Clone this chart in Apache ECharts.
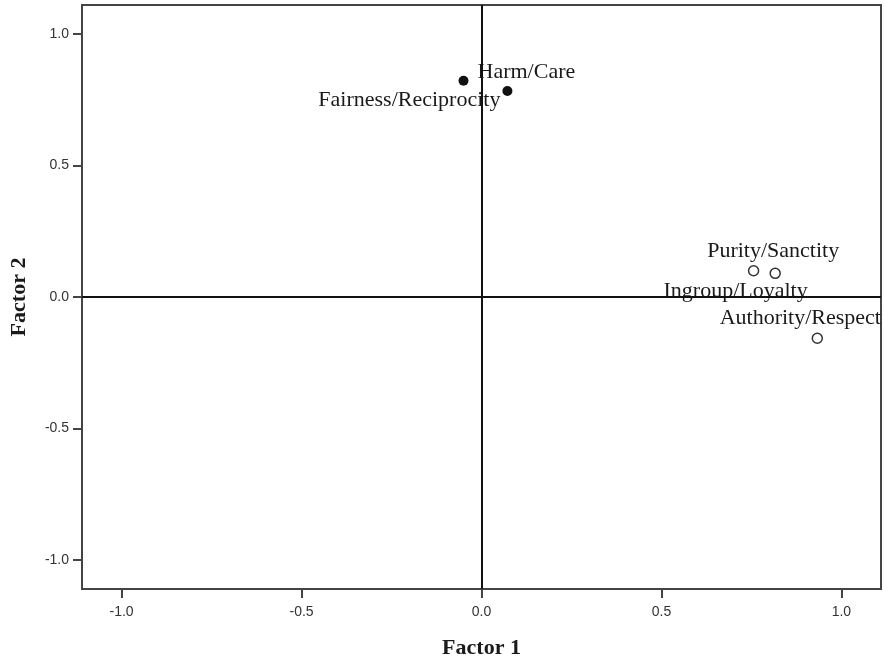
<!DOCTYPE html>
<html>
<head>
<meta charset="utf-8">
<script src="https://cdn.jsdelivr.net/npm/echarts@6/dist/echarts.min.js"></script>
<style>html,body{margin:0;padding:0;background:#fff}#c{width:884px;height:664px}</style>
</head>
<body>
<div id="c"></div>
<script>
// Data
const names = ['Harm/Care', 'Fairness/Reciprocity', 'Ingroup/Loyalty', 'Purity/Sanctity', 'Authority/Respect'];
const factor1 = [-0.050, 0.072, 0.756, 0.816, 0.933];
const factor2 = [0.822, 0.783, 0.100, 0.090, -0.157];
const filled = [true, true, false, false, false];
const tickValues = [-1.0, -0.5, 0.0, 0.5, 1.0];
const axisMin = -1.11, axisMax = 1.11;

// label placement (style only)
const labelStyle = [
  {align: 'left', offset: [14, -9]},
  {align: 'right', offset: [-7, 9]},
  {align: 'center', offset: [-18, 21]},
  {align: 'center', offset: [-2, -22]},
  {align: 'center', offset: [-17, -20]}
];

function pts(isFilled) {
  const out = [];
  for (let i = 0; i < names.length; i++) {
    if (filled[i] !== isFilled) continue;
    out.push({
      name: names[i],
      value: [factor1[i], factor2[i]],
      label: {
        show: true, position: 'inside', formatter: names[i],
        align: labelStyle[i].align, verticalAlign: 'middle',
        offset: labelStyle[i].offset
      }
    });
  }
  return out;
}

const labelFont = {fontFamily: '"Liberation Serif", "Times New Roman", serif', fontSize: 22, color: '#1a1a1a', opacity: 1};
const tickFont = {fontFamily: '"Liberation Sans", Arial, sans-serif', fontSize: 14, color: '#333'};
const axisCol = '#444';

const chart = echarts.init(document.getElementById('c'), null, {renderer: 'canvas'});
chart.setOption({
  animation: false,
  backgroundColor: '#fff',
  grid: {left: 81, right: 3, top: 5, bottom: 75, show: true, borderColor: axisCol, borderWidth: 2, backgroundColor: 'transparent'},
  xAxis: {
    type: 'value', min: axisMin, max: axisMax,
    name: 'Factor 1', nameLocation: 'middle', nameGap: 48,
    nameTextStyle: Object.assign({}, labelFont, {fontWeight: 'bold'}),
    axisLine: {show: true, onZero: false, lineStyle: {color: axisCol, width: 2}},
    axisTick: {show: true, length: 9, customValues: tickValues, lineStyle: {color: axisCol, width: 2}},
    axisLabel: Object.assign({customValues: tickValues, margin: 16, formatter: v => v.toFixed(1)}, tickFont),
    splitLine: {show: false}
  },
  yAxis: {
    type: 'value', min: axisMin, max: axisMax,
    name: 'Factor 2', nameLocation: 'middle', nameGap: 52, nameRotate: 90,
    nameTextStyle: Object.assign({}, labelFont, {fontWeight: 'bold'}),
    axisLine: {show: true, onZero: false, lineStyle: {color: axisCol, width: 2}},
    axisTick: {show: true, length: 9, customValues: tickValues, lineStyle: {color: axisCol, width: 2}},
    axisLabel: Object.assign({customValues: tickValues, margin: 13, formatter: v => v.toFixed(1)}, tickFont),
    splitLine: {show: false}
  },
  series: [
    {
      type: 'scatter', symbol: 'circle', symbolSize: 10,
      itemStyle: {color: '#111', opacity: 1},
      label: labelFont,
      data: pts(true),
      markLine: {
        silent: true, symbol: ['none', 'none'], label: {show: false},
        lineStyle: {color: '#111', width: 2, type: 'solid', opacity: 1},
        data: [{xAxis: 0}, {yAxis: 0}]
      },
      z: 3
    },
    {
      type: 'scatter', symbol: 'circle', symbolSize: 10,
      itemStyle: {color: '#fff', borderColor: '#333', borderWidth: 1.5, opacity: 1},
      label: labelFont,
      data: pts(false),
      z: 3
    }
  ]
});
</script>
</body>
</html>
